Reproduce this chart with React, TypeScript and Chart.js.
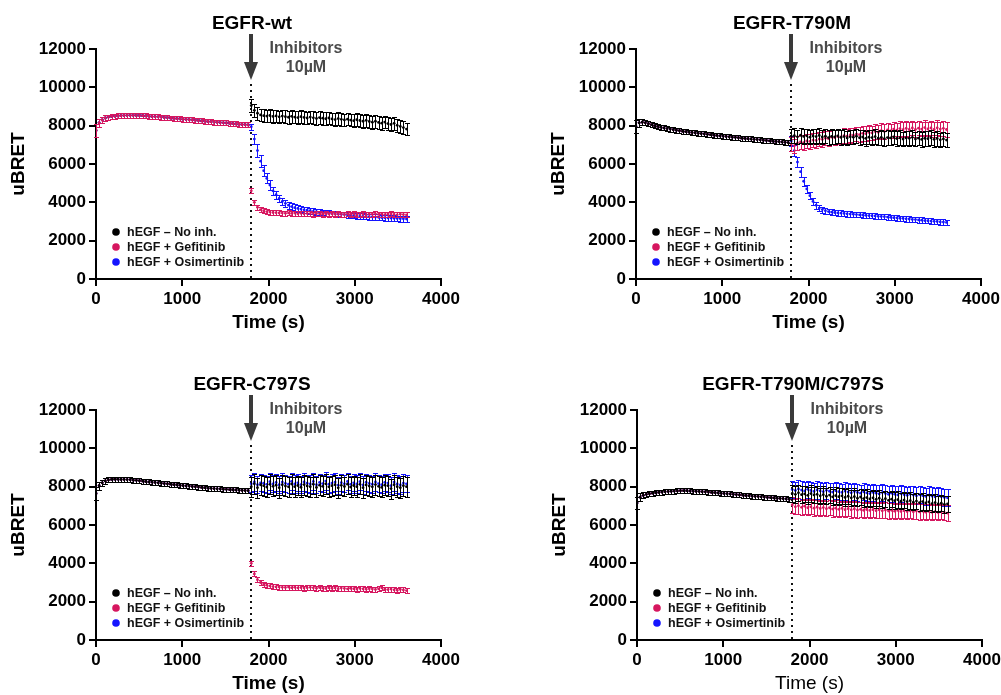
import React, { useEffect, useRef } from "react";
import { Chart, registerables } from "chart.js";

Chart.register(...registerables);

const FONT = "'Liberation Sans', Arial, Helvetica, sans-serif";
const BLACK = "#000000";
const RED = "#d6175f";
const BLUE = "#1414ff";

const LEGEND_LABELS = ["hEGF \u2013 No inh.", "hEGF + Gefitinib", "hEGF + Osimertinib"];
const INJECTION_T = 1800;
const X_MAX = 4000;
const X_STEP = 1000;
const Y_MAX = 12000;
const Y_STEP = 2000;

// time points (s)
const PRE_T = [
  0, 36, 72, 108, 144, 180, 216, 252, 288, 324,
  360, 396, 432, 468, 504, 540, 576, 612, 648, 684,
  720, 756, 792, 828, 864, 900, 936, 972, 1008, 1044,
  1080, 1116, 1152, 1188, 1224, 1260, 1296, 1332, 1368, 1404,
  1440, 1476, 1512, 1548, 1584, 1620, 1656, 1692, 1728, 1764,
];
const POST_T = [
  1800, 1836, 1872, 1908, 1944, 1980, 2016, 2052, 2088, 2124,
  2160, 2196, 2232, 2268, 2304, 2340, 2376, 2412, 2448, 2484,
  2520, 2556, 2592, 2628, 2664, 2700, 2736, 2772, 2808, 2844,
  2880, 2916, 2952, 2988, 3024, 3060, 3096, 3132, 3168, 3204,
  3240, 3276, 3312, 3348, 3384, 3420, 3456, 3492, 3528, 3564,
  3600,
];
const PRE_ERR = [
  330, 200, 160, 140, 130, 130, 130, 130, 130, 130,
  130, 130, 130, 130, 130, 130, 130, 130, 130, 130,
  130, 130, 130, 130, 130, 130, 130, 130, 130, 130,
  130, 130, 130, 130, 130, 130, 130, 130, 130, 130,
  130, 130, 130, 130, 130, 130, 130, 130, 130, 130,
];

// ---------- EGFR-wt ----------
const WT_PRE = [
  7750, 8150, 8300, 8400, 8450, 8480, 8500, 8510, 8520, 8530,
  8540, 8540, 8540, 8530, 8530, 8520, 8510, 8500, 8480, 8470,
  8460, 8450, 8430, 8420, 8400, 8390, 8370, 8360, 8340, 8330,
  8310, 8300, 8280, 8270, 8250, 8240, 8220, 8210, 8190, 8180,
  8160, 8150, 8140, 8120, 8110, 8090, 8080, 8060, 8050, 8040,
];
const WT_NOINH_POST = [
  9050, 8800, 8650, 8560, 8520, 8500, 8530, 8480, 8510, 8460,
  8500, 8470, 8440, 8490, 8450, 8420, 8470, 8430, 8400, 8450,
  8410, 8380, 8420, 8390, 8360, 8400, 8350, 8320, 8370, 8330,
  8300, 8340, 8290, 8260, 8310, 8270, 8230, 8280, 8220, 8180,
  8230, 8170, 8130, 8190, 8110, 8060, 8120, 8020, 7960, 7900,
  7820,
];
const WT_GEF_POST = [
  4600, 4000, 3750, 3620, 3560, 3520, 3490, 3470, 3460, 3450,
  3440, 3430, 3450, 3420, 3440, 3410, 3430, 3400, 3420, 3410,
  3390, 3420, 3400, 3380, 3410, 3390, 3400, 3380, 3410, 3390,
  3370, 3400, 3380, 3410, 3370, 3390, 3400, 3360, 3390, 3380,
  3400, 3370, 3390, 3360, 3380, 3400, 3370, 3350, 3380, 3360,
  3340,
];
const WT_OSI_POST = [
  7950, 7300, 6700, 6150, 5650, 5250, 4900, 4600, 4400, 4200,
  4050, 3950, 3850, 3780, 3720, 3680, 3650, 3610, 3590, 3560,
  3530, 3510, 3480, 3470, 3450, 3430, 3420, 3400, 3380, 3370,
  3360, 3340, 3320, 3310, 3300, 3280, 3270, 3260, 3250, 3240,
  3230, 3220, 3210, 3200, 3190, 3180, 3170, 3160, 3150, 3140,
  3130,
];
const WT_OSI_ERR = [
  150, 280, 320, 300, 280, 260, 240, 220, 210, 200,
  190, 190, 180, 180, 170, 170, 170, 160, 160, 160,
  160, 160, 150, 150, 150, 150, 150, 150, 150, 150,
  150, 150, 150, 150, 150, 150, 150, 150, 150, 150,
  150, 150, 150, 150, 150, 150, 150, 150, 150, 150,
  150,
];

// ---------- EGFR-T790M ----------
const TM_PRE = [
  7950, 8150, 8180, 8150, 8100, 8050, 8000, 7960, 7920, 7880,
  7850, 7820, 7790, 7760, 7740, 7710, 7690, 7670, 7650, 7630,
  7610, 7590, 7570, 7550, 7530, 7510, 7490, 7470, 7460, 7440,
  7420, 7400, 7390, 7370, 7350, 7340, 7320, 7310, 7290, 7280,
  7260, 7240, 7230, 7210, 7200, 7180, 7170, 7150, 7130, 7120,
];
const TM_NOINH_POST = [
  7450, 7480, 7420, 7500, 7440, 7470, 7400, 7460, 7430, 7490,
  7410, 7450, 7380, 7440, 7420, 7470, 7390, 7430, 7360, 7420,
  7400, 7450, 7370, 7410, 7340, 7400, 7380, 7430, 7350, 7390,
  7320, 7380, 7360, 7410, 7330, 7370, 7300, 7360, 7340, 7390,
  7310, 7350, 7280, 7340, 7320, 7370, 7290, 7330, 7260, 7310,
  7250,
];
const TM_GEF_POST = [
  7050, 6950, 7100, 7150, 7120, 7200, 7180, 7250, 7230, 7300,
  7280, 7350, 7320, 7400, 7380, 7430, 7410, 7480, 7450, 7520,
  7500, 7560, 7530, 7600, 7580, 7650, 7620, 7700, 7660, 7740,
  7700, 7780, 7730, 7820, 7760, 7850, 7790, 7860, 7800, 7880,
  7810, 7870, 7820, 7900, 7830, 7880, 7810, 7890, 7820, 7860,
  7800,
];
const TM_OSI_POST = [
  7200, 6700, 6100, 5600, 5100, 4700, 4350, 4050, 3850, 3700,
  3620, 3560, 3520, 3490, 3470, 3450, 3440, 3420, 3400, 3390,
  3380, 3360, 3350, 3340, 3320, 3310, 3300, 3290, 3270, 3260,
  3250, 3230, 3220, 3200, 3190, 3170, 3160, 3140, 3130, 3110,
  3100, 3080, 3070, 3050, 3040, 3020, 3010, 3000, 2980, 2970,
  2950,
];
const TM_OSI_ERR = [
  250, 300, 280, 260, 240, 220, 200, 190, 180, 170,
  160, 160, 150, 150, 150, 140, 140, 140, 140, 140,
  140, 140, 140, 140, 140, 140, 140, 140, 140, 140,
  140, 140, 140, 140, 140, 140, 140, 140, 140, 140,
  140, 140, 140, 140, 140, 140, 140, 140, 140, 140,
  140,
];

// ---------- EGFR-C797S ----------
const CS_PRE = [
  7650, 8050, 8200, 8300, 8350, 8380, 8390, 8390, 8380, 8380,
  8370, 8360, 8340, 8330, 8310, 8290, 8270, 8250, 8240, 8220,
  8200, 8180, 8160, 8150, 8130, 8110, 8100, 8080, 8060, 8040,
  8030, 8010, 8000, 7980, 7960, 7950, 7930, 7920, 7900, 7890,
  7880, 7870, 7860, 7850, 7840, 7830, 7820, 7810, 7800, 7790,
];
const CS_NOINH_POST = [
  8000, 8150, 7950, 8100, 8050, 7980, 8120, 8020, 8080, 7950,
  8100, 8030, 7990, 8140, 8000, 8060, 7970, 8110, 8040, 8000,
  8130, 7960, 8080, 8020, 8150, 7990, 8050, 8100, 7940, 8070,
  8010, 8130, 7980, 8060, 8000, 8120, 7950, 8090, 8030, 7990,
  8110, 8020, 7960, 8080, 8050, 7900, 8100, 8000, 7950, 8050,
  8000,
];
const CS_GEF_POST = [
  4000, 3450, 3150, 3000, 2920, 2860, 2820, 2790, 2770, 2760,
  2750, 2740, 2760, 2730, 2750, 2720, 2740, 2710, 2730, 2750,
  2720, 2700, 2740, 2710, 2690, 2730, 2700, 2720, 2680, 2710,
  2690, 2670, 2700, 2680, 2660, 2690, 2670, 2650, 2680, 2660,
  2640, 2670, 2720, 2650, 2630, 2660, 2620, 2600, 2640, 2610,
  2580,
];
const CS_OSI_POST = [
  8150, 8250, 8100, 8200, 8180, 8120, 8260, 8150, 8220, 8100,
  8240, 8170, 8130, 8280, 8140, 8200, 8110, 8250, 8180, 8140,
  8270, 8100, 8220, 8160, 8290, 8130, 8190, 8240, 8080, 8210,
  8150, 8270, 8120, 8200, 8140, 8260, 8090, 8230, 8170, 8130,
  8250, 8160, 8100, 8220, 8190, 8050, 8240, 8140, 8090, 8190,
  8150,
];

// ---------- EGFR-T790M/C797S ----------
const TC_PRE = [
  7150, 7450, 7550, 7600, 7630, 7660, 7680, 7700, 7720, 7740,
  7750, 7760, 7770, 7780, 7790, 7790, 7790, 7780, 7770, 7760,
  7750, 7740, 7730, 7720, 7700, 7690, 7680, 7660, 7650, 7630,
  7620, 7600, 7590, 7570, 7560, 7540, 7530, 7510, 7500, 7490,
  7470, 7460, 7440, 7430, 7420, 7400, 7390, 7380, 7360, 7350,
];
const TC_NOINH_POST = [
  7650, 7600, 7680, 7580, 7620, 7550, 7640, 7570, 7600, 7520,
  7580, 7500, 7560, 7470, 7530, 7480, 7520, 7440, 7500, 7420,
  7480, 7400, 7460, 7380, 7430, 7360, 7420, 7340, 7400, 7310,
  7370, 7290, 7350, 7270, 7320, 7240, 7300, 7220, 7270, 7190,
  7250, 7170, 7220, 7150, 7200, 7120, 7170, 7100, 7140, 7080,
  7100,
];
const TC_GEF_POST = [
  7050, 6950, 7000, 6920, 6980, 6900, 6950, 6880, 6930, 6860,
  6910, 6850, 6900, 6830, 6880, 6820, 6870, 6800, 6850, 6790,
  6840, 6780, 6820, 6770, 6810, 6760, 6800, 6750, 6790, 6740,
  6780, 6730, 6770, 6720, 6760, 6710, 6750, 6700, 6740, 6690,
  6730, 6680, 6720, 6670, 6710, 6660, 6700, 6650, 6690, 6640,
  6620,
];
const TC_OSI_POST = [
  7850, 7800, 7880, 7820, 7780, 7860, 7800, 7750, 7830, 7780,
  7740, 7810, 7760, 7720, 7790, 7740, 7700, 7770, 7720, 7680,
  7750, 7700, 7660, 7730, 7680, 7640, 7710, 7660, 7620, 7690,
  7640, 7600, 7660, 7610, 7570, 7640, 7590, 7550, 7610, 7560,
  7520, 7590, 7540, 7500, 7560, 7510, 7470, 7540, 7480, 7440,
  7420,
];

type Series = {
  label: string;
  color: string;
  pre: number[];
  post: number[];
  err: number | number[];
};

function toPoints(pre: number[], post: number[]) {
  return [
    ...PRE_T.map((x, i) => ({ x, y: pre[i] })),
    ...POST_T.map((x, i) => ({ x, y: post[i] })),
  ];
}
function toErr(err: number | number[]) {
  const p = Array.isArray(err) ? err : POST_T.map(() => err);
  return [...PRE_ERR, ...p];
}

const errorBarPlugin = {
  id: "errorBars",
  beforeDatasetDraw(chart: any, args: any) {
    const ds = chart.data.datasets[args.index];
    const errs: number[] = ds.errors || [];
    const ys = chart.scales.y;
    const ctx = chart.ctx;
    const area = chart.chartArea;
    ctx.save();
    ctx.beginPath();
    ctx.rect(area.left - 4, area.top - 4, area.right - area.left + 8, area.bottom - area.top + 4);
    ctx.clip();
    ctx.strokeStyle = ds.borderColor;
    ctx.lineWidth = 1;
    ctx.beginPath();
    args.meta.data.forEach((pt: any, i: number) => {
      const v = ds.data[i].y;
      const e = errs[i] || 0;
      const x = Math.round(pt.x) + 0.5;
      const yt = Math.round(ys.getPixelForValue(v + e)) + 0.5;
      const yb = Math.round(ys.getPixelForValue(v - e)) + 0.5;
      ctx.moveTo(x, yt);
      ctx.lineTo(x, yb);
      ctx.moveTo(x - 2.5, yt);
      ctx.lineTo(x + 2.5, yt);
      ctx.moveTo(x - 2.5, yb);
      ctx.lineTo(x + 2.5, yb);
    });
    ctx.stroke();
    ctx.restore();
  },
};

const decorPlugin = {
  id: "decor",
  beforeDatasetsDraw(chart: any) {
    const { ctx, chartArea, scales } = chart;
    const ax = Math.round(scales.x.getPixelForValue(INJECTION_T));
    ctx.save();
    ctx.strokeStyle = "#111";
    ctx.lineWidth = 2;
    ctx.setLineDash([2, 4]);
    ctx.beginPath();
    ctx.moveTo(ax, 84);
    ctx.lineTo(ax, chartArea.bottom);
    ctx.stroke();
    ctx.restore();
  },
  afterDraw(chart: any, _args: any, opts: any) {
    const { ctx, chartArea, scales } = chart;
    const ax = Math.round(scales.x.getPixelForValue(INJECTION_T));
    ctx.save();
    // title
    ctx.fillStyle = "#000";
    ctx.font = `bold 19px ${FONT}`;
    ctx.textAlign = "center";
    ctx.textBaseline = "middle";
    ctx.fillText(opts.title, ax + 1, 24);
    // arrow
    ctx.fillStyle = "#3a3a3a";
    ctx.fillRect(ax - 2, 34, 4, 30);
    ctx.beginPath();
    ctx.moveTo(ax - 7, 62);
    ctx.lineTo(ax + 7, 62);
    ctx.lineTo(ax, 80);
    ctx.closePath();
    ctx.fill();
    // inhibitors text
    ctx.fillStyle = "#4a4a4a";
    ctx.font = `bold 16px ${FONT}`;
    ctx.fillText("Inhibitors", ax + 55, 49);
    ctx.fillText("10\u00b5M", ax + 55, 68);
    // legend
    ctx.textAlign = "left";
    ctx.font = `bold 12.5px ${FONT}`;
    (opts.legend || []).forEach((item: any, i: number) => {
      const y = 232 + i * 15;
      ctx.fillStyle = item.color;
      ctx.beginPath();
      ctx.arc(chartArea.left + 20, y, 3.8, 0, Math.PI * 2);
      ctx.fill();
      ctx.fillStyle = "#111";
      ctx.fillText(item.label, chartArea.left + 31, y + 0.5);
    });
    ctx.restore();
  },
};

const CW = 500;
const CH = 334;

function Panel(props: {
  title: string;
  series: Series[];
  left: number;
  top: number;
  xTitleBold: boolean;
}) {
  const ref = useRef<HTMLCanvasElement>(null);
  useEffect(() => {
    const canvas = ref.current;
    if (!canvas) return;
    const tickFont = { family: FONT, size: 17, weight: "bold" as const };
    const legendItems = [
      { label: LEGEND_LABELS[0], color: BLACK },
      { label: LEGEND_LABELS[1], color: RED },
      { label: LEGEND_LABELS[2], color: BLUE },
    ];
    const chart = new Chart(canvas, {
      type: "scatter",
      data: {
        datasets: props.series.map((s) => ({
          label: s.label,
          data: toPoints(s.pre, s.post),
          errors: toErr(s.err),
          backgroundColor: s.color,
          borderColor: s.color,
          pointRadius: 1.4,
          pointHoverRadius: 1.4,
          pointBorderWidth: 0,
          showLine: false,
        })) as any,
      },
      options: {
        responsive: false,
        animation: false,
        devicePixelRatio: 1,
        events: [],
        layout: { padding: { top: 49, right: 59, left: 0, bottom: 0 } },
        plugins: {
          legend: { display: false },
          tooltip: { enabled: false },
          title: { display: false },
          decor: { title: props.title, legend: legendItems },
        } as any,
        scales: {
          x: {
            type: "linear",
            min: 0,
            max: X_MAX,
            afterFit: (scale: any) => {
              scale.height = 55;
            },
            ticks: {
              stepSize: X_STEP,
              color: "#000",
              font: tickFont,
              padding: 3,
              maxRotation: 0,
              callback: (v: any) => String(v),
            },
            grid: { drawOnChartArea: false, drawTicks: true, tickLength: 7, color: "#000", lineWidth: 2 },
            border: { color: "#000", width: 2 },
            title: {
              display: true,
              text: "Time (s)",
              color: "#000",
              font: { family: FONT, size: 19, weight: props.xTitleBold ? "bold" : "normal" },
              padding: { top: 0, bottom: 0 },
            },
          },
          y: {
            type: "linear",
            min: 0,
            max: Y_MAX,
            afterFit: (scale: any) => {
              scale.width = 96;
            },
            ticks: {
              stepSize: Y_STEP,
              color: "#000",
              font: tickFont,
              padding: 3,
              callback: (v: any) => String(v),
            },
            grid: { drawOnChartArea: false, drawTicks: true, tickLength: 7, color: "#000", lineWidth: 2 },
            border: { color: "#000", width: 2 },
            title: {
              display: true,
              text: "uBRET",
              color: "#000",
              font: { family: FONT, size: 19, weight: "bold" },
              padding: { top: 7, bottom: 0 },
            },
          },
        },
      } as any,
      plugins: [errorBarPlugin, decorPlugin],
    });
    return () => chart.destroy();
  }, []);
  return (
    <canvas
      ref={ref}
      width={CW}
      height={CH}
      style={{ position: "absolute", left: props.left, top: props.top, width: CW, height: CH }}
    />
  );
}

const WT_SERIES: Series[] = [
  { label: LEGEND_LABELS[1], color: RED, pre: WT_PRE, post: WT_GEF_POST, err: 130 },
  { label: LEGEND_LABELS[2], color: BLUE, pre: WT_PRE, post: WT_OSI_POST, err: WT_OSI_ERR },
  { label: LEGEND_LABELS[0], color: BLACK, pre: WT_PRE, post: WT_NOINH_POST, err: 330 },
];
const TM_SERIES: Series[] = [
  { label: LEGEND_LABELS[0], color: BLACK, pre: TM_PRE, post: TM_NOINH_POST, err: 380 },
  { label: LEGEND_LABELS[1], color: RED, pre: TM_PRE, post: TM_GEF_POST, err: 380 },
  { label: LEGEND_LABELS[2], color: BLUE, pre: TM_PRE, post: TM_OSI_POST, err: TM_OSI_ERR },
];
const CS_SERIES: Series[] = [
  { label: LEGEND_LABELS[0], color: BLACK, pre: CS_PRE, post: CS_NOINH_POST, err: 520 },
  { label: LEGEND_LABELS[1], color: RED, pre: CS_PRE, post: CS_GEF_POST, err: 130 },
  { label: LEGEND_LABELS[2], color: BLUE, pre: CS_PRE, post: CS_OSI_POST, err: 450 },
];
const TC_SERIES: Series[] = [
  { label: LEGEND_LABELS[0], color: BLACK, pre: TC_PRE, post: TC_NOINH_POST, err: 430 },
  { label: LEGEND_LABELS[1], color: RED, pre: TC_PRE, post: TC_GEF_POST, err: 400 },
  { label: LEGEND_LABELS[2], color: BLUE, pre: TC_PRE, post: TC_OSI_POST, err: 450 },
];

export default function App() {
  return (
    <div
      style={{
        position: "absolute",
        left: 0,
        top: 0,
        width: 1001,
        height: 695,
        overflow: "hidden",
        background: "#fff",
      }}
    >
      <Panel title="EGFR-wt" series={WT_SERIES} left={0} top={0} xTitleBold={true} />
      <Panel title="EGFR-T790M" series={TM_SERIES} left={540} top={0} xTitleBold={true} />
      <Panel title="EGFR-C797S" series={CS_SERIES} left={0} top={361} xTitleBold={true} />
      <Panel title="EGFR-T790M/C797S" series={TC_SERIES} left={541} top={361} xTitleBold={false} />
    </div>
  );
}
